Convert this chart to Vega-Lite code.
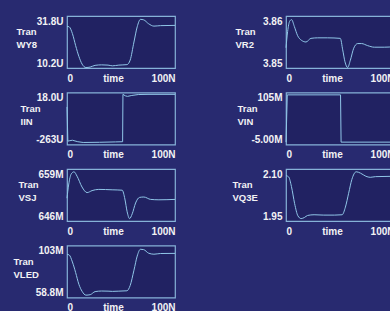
{
  "$schema": "https://vega.github.io/schema/vega-lite/v6.json",
  "background": "#282a70",
  "padding": {"left": 12, "top": 15, "right": 5, "bottom": 5},
  "bounds": "flush",
  "columns": 2,
  "spacing": {"row": 24.5, "column": 111},
  "config": {
    "view": {"stroke": "#86b2d8", "strokeWidth": 1.2, "fill": "#212262"},
    "line": {"color": "#90c6e8", "strokeWidth": 1},
    "axis": {
      "domain": false, "ticks": false, "grid": false,
      "labelColor": "#f2f2f4", "labelFont": "Liberation Sans", "labelFontSize": 10, "labelFontWeight": "bold",
      "titleColor": "#f2f2f4", "titleFont": "Liberation Sans", "titleFontSize": 9.5, "titleFontWeight": "bold",
      "labelFlush": true
    },
    "axisX": {"labelPadding": 5, "titleX": 46, "titleY": 5, "titleBaseline": "top", "titleAlign": "center", "titleFontSize": 10},
    "axisY": {"labelPadding": 4, "titleAngle": 0, "titleAlign": "left", "titleBaseline": "top", "titleY": 10.5, "titleLineHeight": 13}
  },
  "datasets": {
    "WY8": [
      {"t": 0, "v": 27.5}, {"t": 2, "v": 27.3}, {"t": 5, "v": 24.5}, {"t": 8, "v": 19.5}, {"t": 11, "v": 15}, {"t": 14, "v": 11.8}, {"t": 17.5, "v": 10.4}, {"t": 21.5, "v": 10.6}, {"t": 26, "v": 11.3}, {"t": 32, "v": 11.5}, {"t": 38, "v": 11.4}, {"t": 42, "v": 11.1}, {"t": 48, "v": 11.4}, {"t": 55.5, "v": 11.6}, {"t": 58.5, "v": 13.5}, {"t": 62, "v": 21}, {"t": 65, "v": 27.3}, {"t": 68, "v": 30.4}, {"t": 71, "v": 30.2}, {"t": 75.5, "v": 28.6}, {"t": 80.5, "v": 27.6}, {"t": 86.5, "v": 27.8}, {"t": 100, "v": 27.9}
    ],
    "VR2": [
      {"t": 0, "v": 3.8539}, {"t": 1.5, "v": 3.857}, {"t": 3.4, "v": 3.859}, {"t": 5.2, "v": 3.8593}, {"t": 7.7, "v": 3.858}, {"t": 10.8, "v": 3.8562}, {"t": 14.5, "v": 3.8553}, {"t": 18.5, "v": 3.855}, {"t": 23.1, "v": 3.8557}, {"t": 29.3, "v": 3.8558}, {"t": 38.6, "v": 3.8558}, {"t": 50.3, "v": 3.8557}, {"t": 52.5, "v": 3.8535}, {"t": 54.6, "v": 3.8512}, {"t": 57.1, "v": 3.8501}, {"t": 59.6, "v": 3.8515}, {"t": 62.7, "v": 3.8538}, {"t": 66.4, "v": 3.8547}, {"t": 70, "v": 3.8547}, {"t": 75.6, "v": 3.8543}, {"t": 81.8, "v": 3.854}, {"t": 91, "v": 3.854}, {"t": 100, "v": 3.8541}
    ],
    "IIN": [
      {"t": 0, "v": -60}, {"t": 0.8, "v": -245}, {"t": 2, "v": -243}, {"t": 5, "v": -240}, {"t": 10, "v": -248}, {"t": 15, "v": -252}, {"t": 30, "v": -251}, {"t": 45, "v": -249}, {"t": 51.5, "v": -248}, {"t": 51.8, "v": 8}, {"t": 54, "v": 0}, {"t": 56, "v": -3}, {"t": 60, "v": 2}, {"t": 66, "v": 7}, {"t": 75, "v": 8}, {"t": 100, "v": 8}
    ],
    "VIN": [
      {"t": 0, "v": 0}, {"t": 1.2, "v": 100}, {"t": 50.5, "v": 100}, {"t": 51, "v": 0}, {"t": 100, "v": 0}
    ],
    "VSJ": [
      {"t": 0, "v": 651.7}, {"t": 1.5, "v": 655}, {"t": 4, "v": 657.8}, {"t": 6.5, "v": 658.3}, {"t": 9.3, "v": 657.2}, {"t": 13.9, "v": 654.5}, {"t": 18.6, "v": 653.1}, {"t": 23.2, "v": 653.6}, {"t": 29.4, "v": 653.9}, {"t": 41.8, "v": 653.8}, {"t": 51.1, "v": 653.7}, {"t": 53.6, "v": 651.5}, {"t": 55.7, "v": 648.3}, {"t": 57.9, "v": 646.6}, {"t": 60.4, "v": 647.8}, {"t": 63.5, "v": 650.5}, {"t": 67.2, "v": 651.9}, {"t": 71.2, "v": 652.0}, {"t": 77.4, "v": 651.4}, {"t": 85.1, "v": 651.3}, {"t": 100, "v": 651.4}
    ],
    "VQ3E": [
      {"t": 0, "v": 2.081}, {"t": 2.5, "v": 2.077}, {"t": 5, "v": 2.05}, {"t": 8, "v": 2.0}, {"t": 11, "v": 1.965}, {"t": 14, "v": 1.957}, {"t": 17, "v": 1.96}, {"t": 20, "v": 1.966}, {"t": 26, "v": 1.968}, {"t": 35, "v": 1.967}, {"t": 45, "v": 1.967}, {"t": 52, "v": 1.968}, {"t": 55, "v": 1.99}, {"t": 58, "v": 2.03}, {"t": 61, "v": 2.07}, {"t": 65, "v": 2.092}, {"t": 69, "v": 2.088}, {"t": 74, "v": 2.079}, {"t": 78, "v": 2.076}, {"t": 83, "v": 2.078}, {"t": 100, "v": 2.079}
    ],
    "VLED": [
      {"t": 0, "v": 95.5}, {"t": 2, "v": 95.0}, {"t": 5, "v": 89}, {"t": 8, "v": 80}, {"t": 11, "v": 70}, {"t": 14, "v": 64}, {"t": 17.5, "v": 60.8}, {"t": 21.5, "v": 61.2}, {"t": 26, "v": 63.8}, {"t": 32, "v": 64.3}, {"t": 38, "v": 64.2}, {"t": 42, "v": 64}, {"t": 48, "v": 64.2}, {"t": 55.5, "v": 64.5}, {"t": 58.5, "v": 69}, {"t": 62, "v": 82}, {"t": 65, "v": 94}, {"t": 68, "v": 99.8}, {"t": 71, "v": 99.5}, {"t": 75.5, "v": 96.5}, {"t": 80.5, "v": 95.6}, {"t": 86.5, "v": 96.2}, {"t": 100, "v": 96.3}
    ]
  },
  "concat": [
    {
      "data": {"name": "WY8"}, "width": 108, "height": 52,
      "mark": {"type": "line", "interpolate": "monotone"},
      "encoding": {
        "x": {"field": "t", "type": "quantitative", "scale": {"domain": [0, 100], "nice": false}, "axis": {"values": [0, 100], "labelExpr": "datum.value < 50 ? '0' : '100N'", "title": "time"}},
        "y": {"field": "v", "type": "quantitative", "scale": {"domain": [10.2, 31.8], "nice": false, "zero": false}, "axis": {"values": [10.2, 31.8], "labelExpr": "datum.value > 20 ? '31.8U' : '10.2U'", "title": ["Tran", "WY8"], "titleX": -51}}
      }
    },
    {
      "data": {"name": "VR2"}, "width": 108, "height": 52,
      "mark": {"type": "line", "interpolate": "monotone"},
      "encoding": {
        "x": {"field": "t", "type": "quantitative", "scale": {"domain": [0, 100], "nice": false}, "axis": {"values": [0, 100], "labelExpr": "datum.value < 50 ? '0' : '100N'", "title": "time"}},
        "y": {"field": "v", "type": "quantitative", "scale": {"domain": [3.85, 3.86], "nice": false, "zero": false}, "axis": {"values": [3.85, 3.86], "labelExpr": "datum.value > 3.855 ? '3.86' : '3.85'", "title": ["Tran", "VR2"], "titleX": -51}}
      }
    },
    {
      "data": {"name": "IIN"}, "width": 108, "height": 52,
      "mark": {"type": "line"},
      "encoding": {
        "x": {"field": "t", "type": "quantitative", "scale": {"domain": [0, 100], "nice": false}, "axis": {"values": [0, 100], "labelExpr": "datum.value < 50 ? '0' : '100N'", "title": "time"}},
        "y": {"field": "v", "type": "quantitative", "scale": {"domain": [-263, 18], "nice": false, "zero": false}, "axis": {"values": [-263, 18], "labelExpr": "datum.value > 0 ? '18.0U' : '-263U'", "title": ["Tran", "IIN"], "titleX": -47}}
      }
    },
    {
      "data": {"name": "VIN"}, "width": 108, "height": 52,
      "mark": {"type": "line"},
      "encoding": {
        "x": {"field": "t", "type": "quantitative", "scale": {"domain": [0, 100], "nice": false}, "axis": {"values": [0, 100], "labelExpr": "datum.value < 50 ? '0' : '100N'", "title": "time"}},
        "y": {"field": "v", "type": "quantitative", "scale": {"domain": [-5, 105], "nice": false, "zero": false}, "axis": {"values": [-5, 105], "labelExpr": "datum.value > 50 ? '105M' : '-5.00M'", "title": ["Tran", "VIN"], "titleX": -49}}
      }
    },
    {
      "data": {"name": "VSJ"}, "width": 108, "height": 52,
      "mark": {"type": "line", "interpolate": "monotone"},
      "encoding": {
        "x": {"field": "t", "type": "quantitative", "scale": {"domain": [0, 100], "nice": false}, "axis": {"values": [0, 100], "labelExpr": "datum.value < 50 ? '0' : '100N'", "title": "time"}},
        "y": {"field": "v", "type": "quantitative", "scale": {"domain": [646, 659], "nice": false, "zero": false}, "axis": {"values": [646, 659], "labelExpr": "datum.value > 650 ? '659M' : '646M'", "title": ["Tran", "VSJ"], "titleX": -49}}
      }
    },
    {
      "data": {"name": "VQ3E"}, "width": 108, "height": 52,
      "mark": {"type": "line", "interpolate": "monotone"},
      "encoding": {
        "x": {"field": "t", "type": "quantitative", "scale": {"domain": [0, 100], "nice": false}, "axis": {"values": [0, 100], "labelExpr": "datum.value < 50 ? '0' : '100N'", "title": "time"}},
        "y": {"field": "v", "type": "quantitative", "scale": {"domain": [1.95, 2.1], "nice": false, "zero": false}, "axis": {"values": [1.95, 2.1], "labelExpr": "datum.value > 2 ? '2.10' : '1.95'", "title": ["Tran", "VQ3E"], "titleX": -54}}
      }
    },
    {
      "data": {"name": "VLED"}, "width": 108, "height": 52,
      "mark": {"type": "line", "interpolate": "monotone"},
      "encoding": {
        "x": {"field": "t", "type": "quantitative", "scale": {"domain": [0, 100], "nice": false}, "axis": {"values": [0, 100], "labelExpr": "datum.value < 50 ? '0' : '100N'", "title": "time"}},
        "y": {"field": "v", "type": "quantitative", "scale": {"domain": [58.8, 103], "nice": false, "zero": false}, "axis": {"values": [58.8, 103], "labelExpr": "datum.value > 80 ? '103M' : '58.8M'", "title": ["Tran", "VLED"], "titleX": -54}}
      }
    }
  ]
}
